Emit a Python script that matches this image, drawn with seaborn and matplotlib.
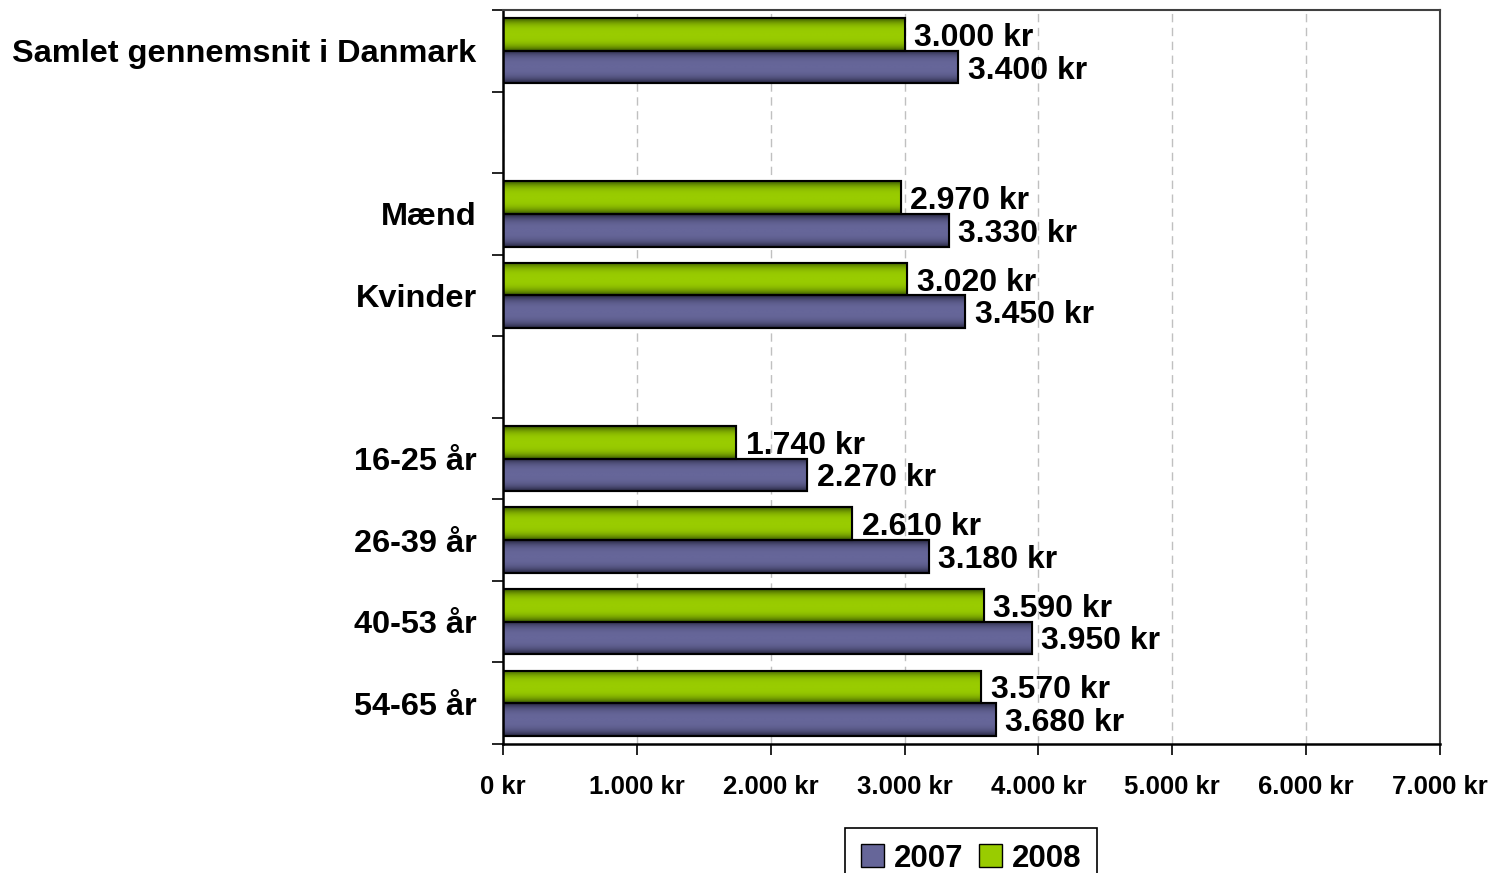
import numpy as np
import pandas as pd
import matplotlib
matplotlib.use("Agg")
import matplotlib.pyplot as plt
from matplotlib.patches import Patch
from matplotlib.ticker import FuncFormatter, FixedLocator
from matplotlib.colors import LinearSegmentedColormap
import seaborn as sns

# Data (blank rows are spacer categories)
categories = ["Samlet gennemsnit i Danmark", "", "Mænd", "Kvinder", " ",
              "16-25 år", "26-39 år", "40-53 år", "54-65 år"]
values_2007 = [3400, np.nan, 3330, 3450, np.nan, 2270, 3180, 3950, 3680]
values_2008 = [3000, np.nan, 2970, 3020, np.nan, 1740, 2610, 3590, 3570]
years = ["2007", "2008"]
x_ticks = [0, 1000, 2000, 3000, 4000, 5000, 6000, 7000]

colors = {"2007": "#666699", "2008": "#99CC00"}
dark = {"2007": "#22223a", "2008": "#345000"}

df = pd.DataFrame({
    "kategori": categories * 2,
    "aar": ["2007"] * len(categories) + ["2008"] * len(categories),
    "beloeb": values_2007 + values_2008,
})

sns.set_style("white", {"text.color": "black", "axes.labelcolor": "black",
                        "xtick.color": "black", "ytick.color": "black"})
plt.rcParams["font.family"] = ["Liberation Sans", "DejaVu Sans"]
plt.rcParams["font.weight"] = "bold"


def kr(v, pos=None):
    return f"{v:,.0f}".replace(",", ".") + " kr"


fig = plt.figure(figsize=(14.93, 8.73), dpi=100)
ax = fig.add_axes([0.3369, 0.1478, 0.6276, 0.8407])

hue_order = ["2008", "2007"]
sns.barplot(data=df, y="kategori", x="beloeb", hue="aar", order=categories,
            hue_order=hue_order, palette=colors, orient="h", saturation=1,
            width=0.8, edgecolor="black", linewidth=1.5, errorbar=None,
            legend=False, ax=ax)

ax.set_xlim(0, 7000)
ax.set_ylim(len(categories) - 0.5, -0.5)

# shaded look of the bars: darker at top and bottom edge
t = np.linspace(0, 1, 128)
shade = (1 - np.abs(2 * t - 1) ** 3)[:, None]
for year, cont in zip(hue_order, ax.containers):
    cmap = LinearSegmentedColormap.from_list(year, [dark[year], colors[year]])
    for bar in cont:
        w = bar.get_width()
        if np.isnan(w):
            continue
        y0 = bar.get_y()
        h = bar.get_height()
        im = ax.imshow(shade, cmap=cmap, aspect="auto", origin="upper",
                       extent=(0, w, y0 + h, y0), zorder=bar.get_zorder() + 0.1,
                       interpolation="bilinear", vmin=0, vmax=1)
        im.set_clip_path(bar)
        edge = plt.Rectangle((0, y0), w, h, fill=False, edgecolor="black",
                             linewidth=1.5, zorder=bar.get_zorder() + 0.2)
        ax.add_patch(edge)

# value labels
for cont in ax.containers:
    labels = []
    for bar in cont:
        w = bar.get_width()
        labels.append("" if np.isnan(w) else kr(w))
    texts = ax.bar_label(cont, labels=labels, padding=7, fontsize=23,
                         fontweight="bold")
    for txt in texts:
        txt.set_va("center_baseline")

ax.set_xlim(0, 7000)
ax.set_ylim(len(categories) - 0.5, -0.5)
ax.xaxis.set_major_locator(FixedLocator(x_ticks))
ax.xaxis.set_major_formatter(FuncFormatter(kr))
ax.set_xlabel("")
ax.set_ylabel("")

ax.grid(axis="x", color="#c0c0c0", linestyle=(0, (6, 4)), linewidth=1)
ax.set_axisbelow(True)

ax.yaxis.set_minor_locator(FixedLocator(np.arange(-0.5, len(categories), 1)))
ax.tick_params(axis="y", which="major", length=0, pad=19, labelsize=23.4)
ax.tick_params(axis="y", which="minor", length=8, width=1.2, color="black",
               direction="out", left=True)
ax.tick_params(axis="x", which="major", length=8, width=1.2, color="black",
               direction="out", bottom=True, pad=14, labelsize=18.5)
for lab in ax.get_yticklabels() + ax.get_xticklabels():
    lab.set_fontweight("bold")

for side in ["left", "bottom"]:
    ax.spines[side].set_color("black")
    ax.spines[side].set_linewidth(1.8)
for side in ["top", "right"]:
    ax.spines[side].set_color("#404040")
    ax.spines[side].set_linewidth(1.5)

handles = [Patch(facecolor=colors[y], edgecolor="black", linewidth=1) for y in years]
leg = fig.legend(handles, years, loc="upper center",
                 bbox_to_anchor=(0.6505, 1 - 828 / 873), ncol=2, borderaxespad=0,
                 frameon=True, fancybox=False, framealpha=1, edgecolor="black",
                 prop={"size": 22.5, "weight": "bold"}, handlelength=0.75,
                 handleheight=0.75, handletextpad=0.3, columnspacing=0.5,
                 borderpad=0.5)
leg.get_frame().set_linewidth(1.2)

fig.savefig("out.png", dpi=100)
